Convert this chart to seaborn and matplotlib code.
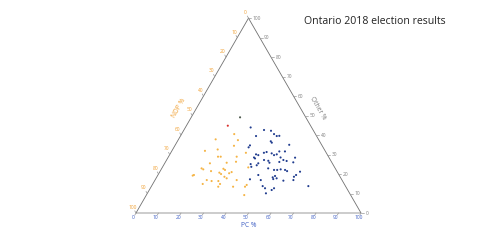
import numpy as np
import pandas as pd
import matplotlib
matplotlib.use("Agg")
import matplotlib.pyplot as plt
import seaborn as sns

# ---- data (percent of vote) ----
pc = [21.7, 18.4, 29.0, 35.6, 38.9, 41.1, 43.9, 42.8, 33.6, 23.4,
      16.5, 26.6, 33.3, 33.2, 41.5, 42.3, 50.6, 26.3, 14.7, 20.0,
      41.4, 42.4, 45.0, 46.5, 47.5, 47.9, 50.4, 38.3, 39.5, 38.2,
      38.9, 33.4, 22.0, 23.2, 30.3, 50.0, 51.9, 50.6, 53.6, 56.9,
      56.5, 43.3, 45.4, 46.4, 41.6, 41.4, 38.4, 39.4, 38.2, 31.3,
      20.1, 27.4, 17.7, 18.7, 27.5, 28.5, 32.0, 31.2, 16.0, 15.6,
      22.6, 26.7, 27.8, 47.3, 50.3, 51.7, 53.1, 55.2, 56.4, 62.3,
      61.4, 60.9, 52.3, 53.6, 51.6, 52.3, 57.2, 61.5, 42.0, 44.6,
      47.0, 36.3, 30.0, 31.4, 23.0, 25.4, 28.4, 29.9, 22.2, 42.0,
      41.7, 49.4, 51.0, 54.4, 55.0, 52.7, 69.7, 43.5, 29.8, 36.4]
other = [49.1, 44.8, 43.9, 42.6, 42.2, 40.5, 39.6, 39.5, 39.5, 40.5,
         37.8, 37.4, 34.7, 33.7, 36.8, 36.1, 35.0, 34.5, 31.9, 32.6,
         30.9, 31.3, 30.6, 29.7, 30.1, 31.6, 31.6, 30.1, 29.7, 28.5,
         28.0, 30.9, 28.9, 28.9, 28.9, 28.5, 27.2, 26.2, 26.7, 26.0,
         28.4, 27.2, 26.8, 25.8, 25.5, 24.5, 25.1, 23.7, 23.4, 26.3,
         25.5, 25.8, 22.9, 22.4, 22.7, 22.1, 21.0, 20.4, 19.5, 19.2,
         21.5, 20.7, 20.0, 22.9, 22.1, 22.1, 22.4, 22.1, 21.5, 21.2,
         19.5, 18.6, 19.0, 17.8, 18.3, 17.4, 16.6, 16.9, 17.3, 19.5,
         16.9, 16.9, 18.6, 17.8, 16.9, 16.4, 16.4, 14.9, 14.9, 14.4,
         13.5, 13.8, 12.7, 11.8, 12.7, 10.1, 13.8, 9.2, 13.5, 13.5]
ndp = [29.2, 36.8, 27.1, 21.8, 18.9, 18.4, 16.5, 17.7, 26.9, 36.1,
       45.7, 36.0, 32.0, 33.1, 21.7, 21.6, 14.4, 39.2, 53.4, 47.4,
       27.7, 26.3, 24.4, 23.8, 22.4, 20.5, 18.0, 31.6, 30.8, 33.3,
       33.1, 35.7, 49.1, 47.9, 40.8, 21.5, 20.9, 23.2, 19.7, 17.1,
       15.1, 29.5, 27.8, 27.8, 32.9, 34.1, 36.5, 36.9, 38.4, 42.4,
       54.4, 46.8, 59.4, 58.9, 49.8, 49.4, 47.0, 48.4, 64.5, 65.2,
       55.9, 52.6, 52.2, 29.8, 27.6, 26.2, 24.5, 22.7, 22.1, 16.5,
       19.1, 20.5, 28.7, 28.6, 30.1, 30.3, 26.2, 21.6, 40.7, 35.9,
       36.1, 46.8, 51.4, 50.8, 60.1, 58.2, 55.2, 55.2, 62.9, 43.6,
       44.8, 36.8, 36.3, 33.8, 32.3, 37.2, 16.5, 47.3, 56.7, 50.1]
winner = ["Green", "Liberal"] + \
    ["PC"] * 7 + ["NDP"] * 3 + ["PC"] * 5 + ["NDP"] * 3 + \
    ["PC"] * 11 + ["NDP"] * 4 + ["PC"] * 13 + ["NDP"] * 15 + \
    ["PC"] * 18 + ["NDP"] * 10 + ["PC"] * 6 + ["NDP"] * 3

ticks = [0, 10, 20, 30, 40, 50, 60, 70, 80, 90, 100]
title = "Ontario 2018 election results"

palette = {"PC": "#213d8f", "NDP": "#f5b445", "Liberal": "#d9302c", "Green": "#4d5a4d"}
c_pc_axis = "#3f5fc4"
c_ndp_axis = "#f0a032"
c_other_axis = "#808080"

sns.set_theme(style="white")
plt.rcParams['font.family'] = ['Open Sans', 'DejaVu Sans']

# ternary projection: NDP=100 at bottom-left, PC=100 at bottom-right, Other=100 at apex
H = np.sqrt(3) / 2
tot = np.array(pc) + np.array(ndp) + np.array(other)
fp = np.array(pc) / tot
fo = np.array(other) / tot
df = pd.DataFrame({"x": fp + 0.5 * fo, "y": H * fo, "winner": winner})

W, Hpx = 500, 243
fig = plt.figure(figsize=(W / 100, Hpx / 100), dpi=100)
ax = fig.add_axes([0, 0, 1, 1])
scale = 225.0  # px per unit
x0, y0 = 136.0, 213.0
ax.set_xlim(-x0 / scale, (W - x0) / scale)
ax.set_ylim(-(Hpx - y0) / scale, y0 / scale)
ax.axis("off")

px = 1.0 / scale
# triangle edges
ax.plot([0, 1], [0, 0], color="#cccccc", lw=1.4, solid_capstyle="butt", zorder=1)
ax.plot([0, 0.5], [0, H], color="#707070", lw=0.6, zorder=1)
ax.plot([1, 0.5], [0, H], color="#707070", lw=0.6, zorder=1)

fs = 3.5
# bottom axis (PC)
d = np.array([-0.5, -H])
for v in ticks:
    p = np.array([v / 100, 0.0])
    e = p + d * 2.5 * px
    ax.plot([p[0], e[0]], [p[1], e[1]], color="#999999", lw=0.5)
    lp = p + d * 5.5 * px
    ax.text(lp[0], lp[1], str(v), color=c_pc_axis, fontsize=fs, ha="center", va="center")
ax.text(0.5, -12.3 * px, "PC %", color=c_pc_axis, fontsize=4.8, ha="center", va="center")

# left axis (NDP)
d = np.array([-0.5, H])
for v in ticks:
    f = 1 - v / 100
    p = np.array([0.5 * f, H * f])
    e = p + d * 2.5 * px
    ax.plot([p[0], e[0]], [p[1], e[1]], color="#999999", lw=0.5)
    lp = p + d * 6.5 * px
    ax.text(lp[0], lp[1], str(v), color=c_ndp_axis, fontsize=fs, ha="center", va="center")
lx, ly = 0.25 + (-H) * 15 * px, H / 2 + 0.5 * 15 * px
ax.text(lx, ly, "NDP %", color=c_ndp_axis, fontsize=4.8, ha="center", va="center", rotation=60)

# right axis (Other)
for v in ticks:
    o = v / 100
    p = np.array([1 - 0.5 * o, H * o])
    ax.plot([p[0], p[0] + 3 * px], [p[1], p[1]], color="#999999", lw=0.5)
    ax.text(p[0] + 4.5 * px, p[1], str(v), color=c_other_axis, fontsize=fs, ha="left", va="center")
rx, ry = 0.75 + H * 15 * px, H / 2 + 0.5 * 15 * px
ax.text(rx, ry, "Other %", color=c_other_axis, fontsize=4.8, ha="center", va="center", rotation=-60)

sns.scatterplot(data=df, x="x", y="y", hue="winner", palette=palette, s=2.3,
                linewidth=0, legend=False, ax=ax, zorder=3)
ax.set_xlabel("")
ax.set_ylabel("")
ax.axis("off")

fig.text(304 / W, 1 - 21.5 / Hpx, title, fontsize=7.6, color="#222222", ha="left", va="center")

fig.savefig("out.png", dpi=100)
